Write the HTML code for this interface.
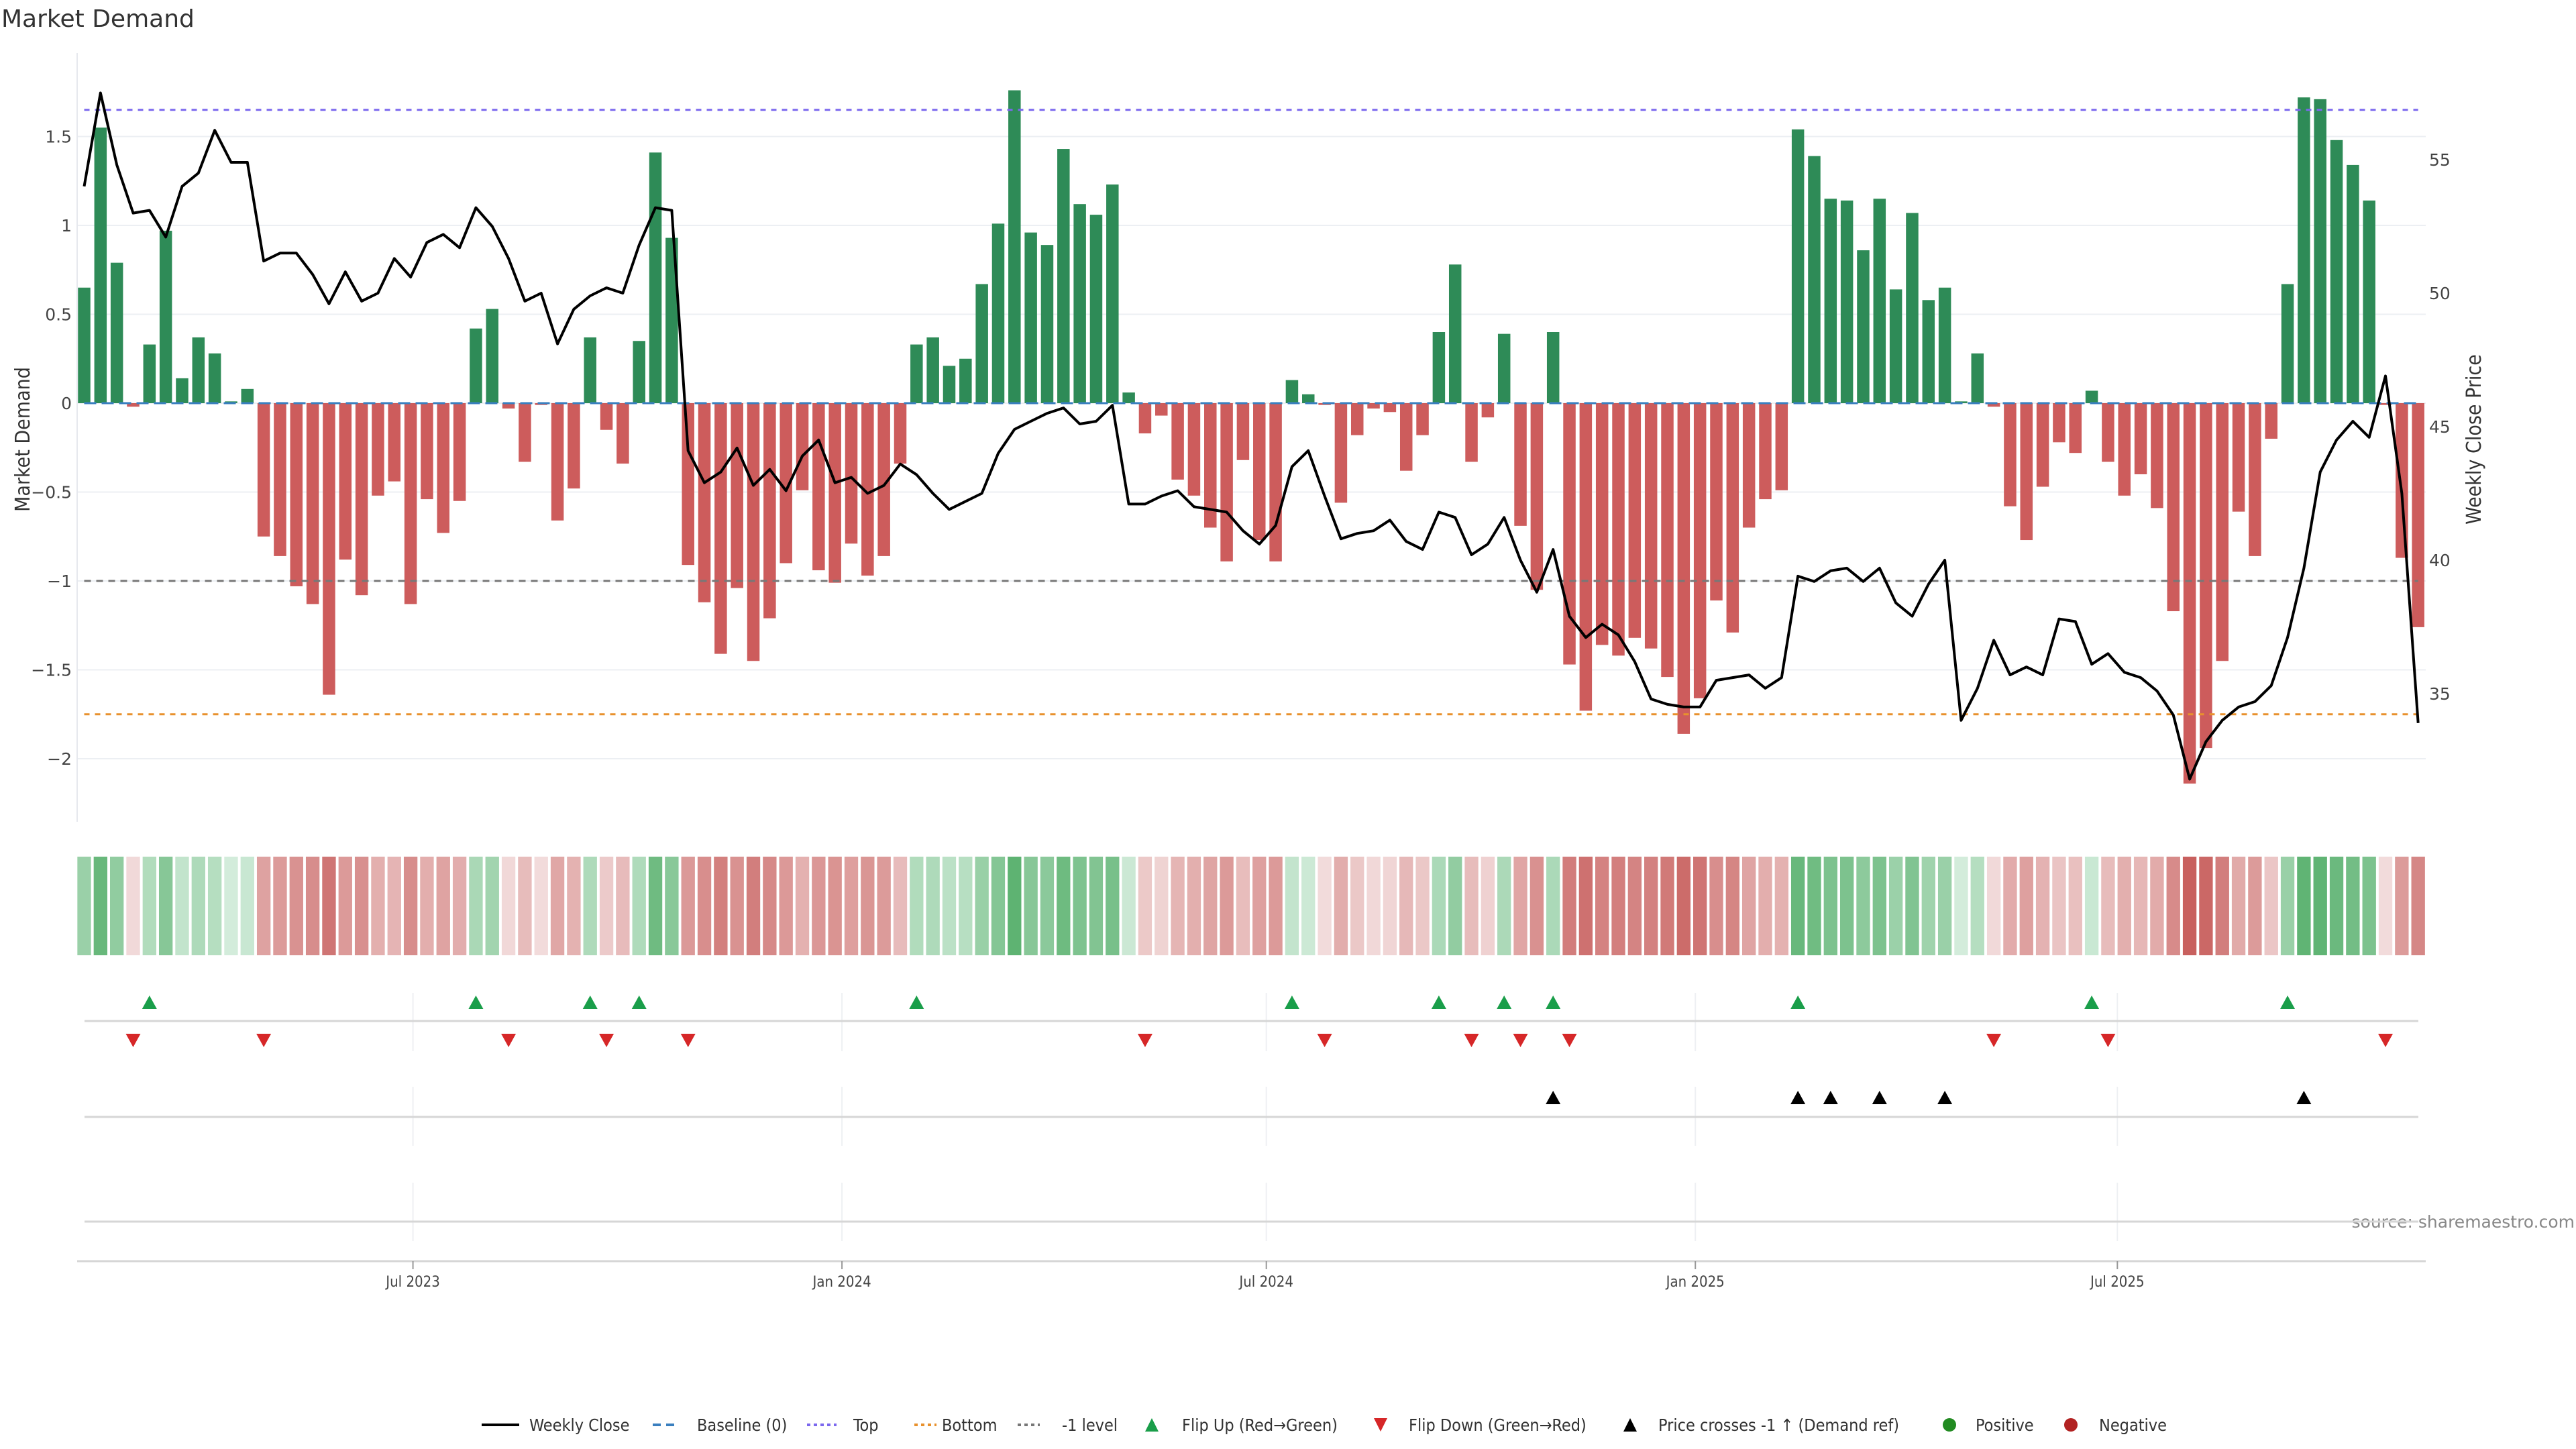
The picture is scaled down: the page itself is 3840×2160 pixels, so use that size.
<!DOCTYPE html>
<html><head><meta charset="utf-8"><title>Market Demand</title>
<style>
html,body{margin:0;padding:0;background:#fff;}
svg{display:block;}
text{font-family:"DejaVu Sans","Liberation Sans",sans-serif;fill:#444;}
.cond{font-family:"DejaVu Sans Condensed","Liberation Sans Narrow","DejaVu Sans",sans-serif;}
</style></head>
<body>
<svg id="chart" width="3840" height="2160" viewBox="0 0 3840 2160" xmlns="http://www.w3.org/2000/svg">
<text x="2" y="40" font-size="36" style="fill:#333">Market Demand</text>
<text class="cond" transform="translate(44,655) rotate(-90)" text-anchor="middle" font-size="30" style="fill:#333">Market Demand</text>
<text class="cond" transform="translate(3698,655) rotate(-90)" text-anchor="middle" font-size="30" style="fill:#333">Weekly Close Price</text>
<text x="3838" y="1830" text-anchor="end" font-size="25" style="fill:#888">source: sharemaestro.com</text>
<g id="grid"></g><g id="bars"></g><g id="refs"></g><g id="price"></g><g id="heat"></g><g id="marks"></g><g id="axes"></g><g id="legend"></g>
</svg>
<script>
const demand=[0.65,1.55,0.79,-0.02,0.33,0.97,0.14,0.37,0.28,0.01,0.08,-0.75,-0.86,-1.03,-1.13,-1.64,-0.88,-1.08,-0.52,-0.44,-1.13,-0.54,-0.73,-0.55,0.42,0.53,-0.03,-0.33,-0.01,-0.66,-0.48,0.37,-0.15,-0.34,0.35,1.41,0.93,-0.91,-1.12,-1.41,-1.04,-1.45,-1.21,-0.90,-0.49,-0.94,-1.01,-0.79,-0.97,-0.86,-0.34,0.33,0.37,0.21,0.25,0.67,1.01,1.76,0.96,0.89,1.43,1.12,1.06,1.23,0.06,-0.17,-0.07,-0.43,-0.52,-0.70,-0.89,-0.32,-0.77,-0.89,0.13,0.05,-0.01,-0.56,-0.18,-0.03,-0.05,-0.38,-0.18,0.40,0.78,-0.33,-0.08,0.39,-0.69,-1.05,0.40,-1.47,-1.73,-1.36,-1.42,-1.32,-1.38,-1.54,-1.86,-1.66,-1.11,-1.29,-0.70,-0.54,-0.49,1.54,1.39,1.15,1.14,0.86,1.15,0.64,1.07,0.58,0.65,0.01,0.28,-0.02,-0.58,-0.77,-0.47,-0.22,-0.28,0.07,-0.33,-0.52,-0.40,-0.59,-1.17,-2.14,-1.94,-1.45,-0.61,-0.86,-0.20,0.67,1.72,1.71,1.48,1.34,1.14,-0.01,-0.87,-1.26];
const price=[54.0,57.5,54.8,53.0,53.1,52.1,54.0,54.5,56.1,54.9,54.9,51.2,51.5,51.5,50.7,49.6,50.8,49.7,50.0,51.3,50.6,51.9,52.2,51.7,53.2,52.5,51.3,49.7,50.0,48.1,49.4,49.9,50.2,50.0,51.8,53.2,53.1,44.1,42.9,43.3,44.2,42.8,43.4,42.6,43.9,44.5,42.9,43.1,42.5,42.8,43.6,43.2,42.5,41.9,42.2,42.5,44.0,44.9,45.2,45.5,45.7,45.1,45.2,45.8,42.1,42.1,42.4,42.6,42.0,41.9,41.8,41.1,40.6,41.3,43.5,44.1,42.4,40.8,41.0,41.1,41.5,40.7,40.4,41.8,41.6,40.2,40.6,41.6,40.0,38.8,40.4,37.9,37.1,37.6,37.2,36.2,34.8,34.6,34.5,34.5,35.5,35.6,35.7,35.2,35.6,39.4,39.2,39.6,39.7,39.2,39.7,38.4,37.9,39.1,40.0,34.0,35.2,37.0,35.7,36.0,35.7,37.8,37.7,36.1,36.5,35.8,35.6,35.1,34.2,31.8,33.2,34.0,34.5,34.7,35.3,37.1,39.7,43.3,44.5,45.2,44.6,46.9,42.5,33.9];
const crossWeeks=[91,106,108,111,115,137];
const startDate="2023-02-10";
const leftTicks=[-2,-1.5,-1,-0.5,0,0.5,1,1.5];
const leftTickLabels=["\u22122","\u22121.5","\u22121","\u22120.5","0","0.5","1","1.5"];
const rightTicks=[35,40,45,50,55];
const dateTicks=["2023-07-01","2024-01-01","2024-07-01","2025-01-01","2025-07-01"];
const dateTickLabels=["Jul 2023","Jan 2024","Jul 2024","Jan 2025","Jul 2025"];
const topLevel=1.65, bottomLevel=-1.75, minusOne=-1;

const NS="http://www.w3.org/2000/svg";
function mk(tag,attrs,parent){const e=document.createElementNS(NS,tag);for(const k in attrs)e.setAttribute(k,attrs[k]);parent.appendChild(e);return e;}
const X0=125.5, STEP=24.33, BW=18.5;
const xI=i=>X0+i*STEP;
const t0=Date.parse(startDate);
const xD=d=>X0+(Date.parse(d)-t0)/86400000/7*STEP;
const yL=v=>601-v*265;
const yR=p=>238+(55-p)*39.8;
const PL=115, PR=3616, LX0=X0, LX1=xI(demand.length-1);
const G=id=>document.getElementById(id);

leftTicks.forEach((t,i)=>{
  const l=mk('line',{x1:PL,x2:PR,y1:yL(t),y2:yL(t),stroke:'#eceff3','stroke-width':2},G('grid'));
  
  
  const tx=mk('text',{x:107,y:yL(t)+9,'text-anchor':'end','font-size':25},G('axes'));
  tx.textContent=leftTickLabels[i];
  
  
});
rightTicks.forEach(t=>{
  const tx=mk('text',{x:3621,y:yR(t)+9,'font-size':25},G('axes'));
  tx.textContent=String(t);
  
  
});
const ax=mk('line',{x1:PL,x2:PL,y1:79,y2:1225,stroke:'#e6e8ee','stroke-width':2},G('axes'));



demand.forEach((v,i)=>{
  const y=Math.min(yL(v),yL(0)), h=Math.abs(yL(v)-yL(0));
  const r=mk('rect',{x:xI(i)-BW/2,y:y,width:BW,height:Math.max(h,0.5),fill:v>=0?'#2e8b57':'#cd5c5c'},G('bars'));
  
  
});
const refDefs=[[0,'#3a7fbf','18,8','baseline-line'],[topLevel,'#7b68ee','8,8','top-line'],[bottomLevel,'#e8912d','8,8','bottom-line'],[minusOne,'#777','10,8','minus-one-line']];
refDefs.forEach(d=>{
  const l=mk('line',{x1:LX0,x2:LX1,y1:yL(d[0]),y2:yL(d[0]),stroke:d[1],'stroke-width':3,'stroke-dasharray':d[2]},G('refs'));
  
  
});
const pts=price.map((p,i)=>xI(i).toFixed(1)+','+yR(p).toFixed(1)).join(' ');
const pl=mk('polyline',{points:pts,fill:'none',stroke:'#000','stroke-width':4,'stroke-linejoin':'round'},G('price'));



function mix(a,b,t){return 'rgb('+a.map((c,k)=>Math.round(c+(b[k]-c)*t)).join(',')+')';}
demand.forEach((v,i)=>{
  const t=Math.pow(Math.min(Math.abs(v)/2.14,1),0.7);
  const col=v>=0?mix([214,238,222],[76,170,98],t):mix([243,222,222],[200,96,94],t);
  const r=mk('rect',{x:xI(i)-STEP/2+2,y:1277,width:STEP-4,height:147,fill:col},G('heat'));
  
  
});

const panels=[[1480,1567,1522],[1620,1708,1665],[1763,1850,1821]];
panels.forEach(p=>{
  dateTicks.forEach(d=>{
    const l=mk('line',{x1:xD(d),x2:xD(d),y1:p[0],y2:p[1],stroke:'#eef0f3','stroke-width':2},G('marks'));
    
    
  });
  const h=mk('line',{x1:126,x2:3605,y1:p[2],y2:p[2],stroke:'#d6d6d6','stroke-width':3},G('marks'));
  
  
});
function tri(cx,cy,up,fill,name){
  const s=11,hh=10;
  const pts=up?[[cx-s,cy+hh],[cx+s,cy+hh],[cx,cy-hh]]:[[cx-s,cy-hh],[cx+s,cy-hh],[cx,cy+hh]];
  const e=mk('polygon',{points:pts.map(q=>q.join(',')).join(' '),fill:fill},G('marks'));
  
  
}
for(let i=1;i<demand.length;i++){
  if(demand[i]>=0&&demand[i-1]<0) tri(xI(i),1494,true,'#1a9e4a','flip-up-marker');
  if(demand[i]<0&&demand[i-1]>=0) tri(xI(i),1551,false,'#d62728','flip-down-marker');
}
crossWeeks.forEach(w=>tri(xI(w-1),1636,true,'#000','price-cross-marker'));

const xa=mk('line',{x1:PL,x2:PR,y1:1880,y2:1880,stroke:'#d6d6d6','stroke-width':3},G('axes'));


dateTicks.forEach((d,i)=>{
  const tk=mk('line',{x1:xD(d),x2:xD(d),y1:1880,y2:1892,stroke:'#999','stroke-width':2},G('axes'));
  
  
  const tx=mk('text',{x:xD(d),y:1918,'text-anchor':'middle','font-size':22,class:'cond'},G('axes'));
  tx.textContent=dateTickLabels[i];
  
  
});

const LY=2124, LG=G('legend');
function ltext(x,s){const t=mk('text',{x:x,y:LY+9,'font-size':25,class:'cond',style:'fill:#333'},LG);t.textContent=s;}
function lline(x1,x2,col,dash,w,name){const l=mk('line',{x1:x1,x2:x2,y1:LY,y2:LY,stroke:col,'stroke-width':w,'stroke-dasharray':dash},LG);}
lline(718,774,'#000','none',4,'legend-weekly-close');ltext(789,'Weekly Close');
lline(973,1008,'#3a7fbf','12,8',4,'legend-baseline');ltext(1039,'Baseline (0)');
lline(1203,1247,'#7b68ee','5,5',4,'legend-top');ltext(1272,'Top');
lline(1363,1396,'#e8912d','5,5',4,'legend-bottom');ltext(1404,'Bottom');
lline(1517,1550,'#777','5,5',4,'legend-minus-one');ltext(1583,'-1 level');
function ltri(cx,up,fill,name){const s=10,h=10;const p=up?[[cx-s,LY+h],[cx+s,LY+h],[cx,LY-h]]:[[cx-s,LY-h],[cx+s,LY-h],[cx,LY+h]];const e=mk('polygon',{points:p.map(q=>q.join(',')).join(' '),fill:fill},LG);}
ltri(1717,true,'#1a9e4a','legend-flip-up');ltext(1762,'Flip Up (Red\u2192Green)');
ltri(2058,false,'#d62728','legend-flip-down');ltext(2100,'Flip Down (Green\u2192Red)');
ltri(2430,true,'#000','legend-price-cross');ltext(2472,'Price crosses -1 \u2191 (Demand ref)');
const c1=mk('circle',{cx:2906,cy:LY,r:10,fill:'#228b22'},LG);


ltext(2945,'Positive');
const c2=mk('circle',{cx:3087,cy:LY,r:10,fill:'#b22222'},LG);


ltext(3129,'Negative');
</script>
</body></html>
